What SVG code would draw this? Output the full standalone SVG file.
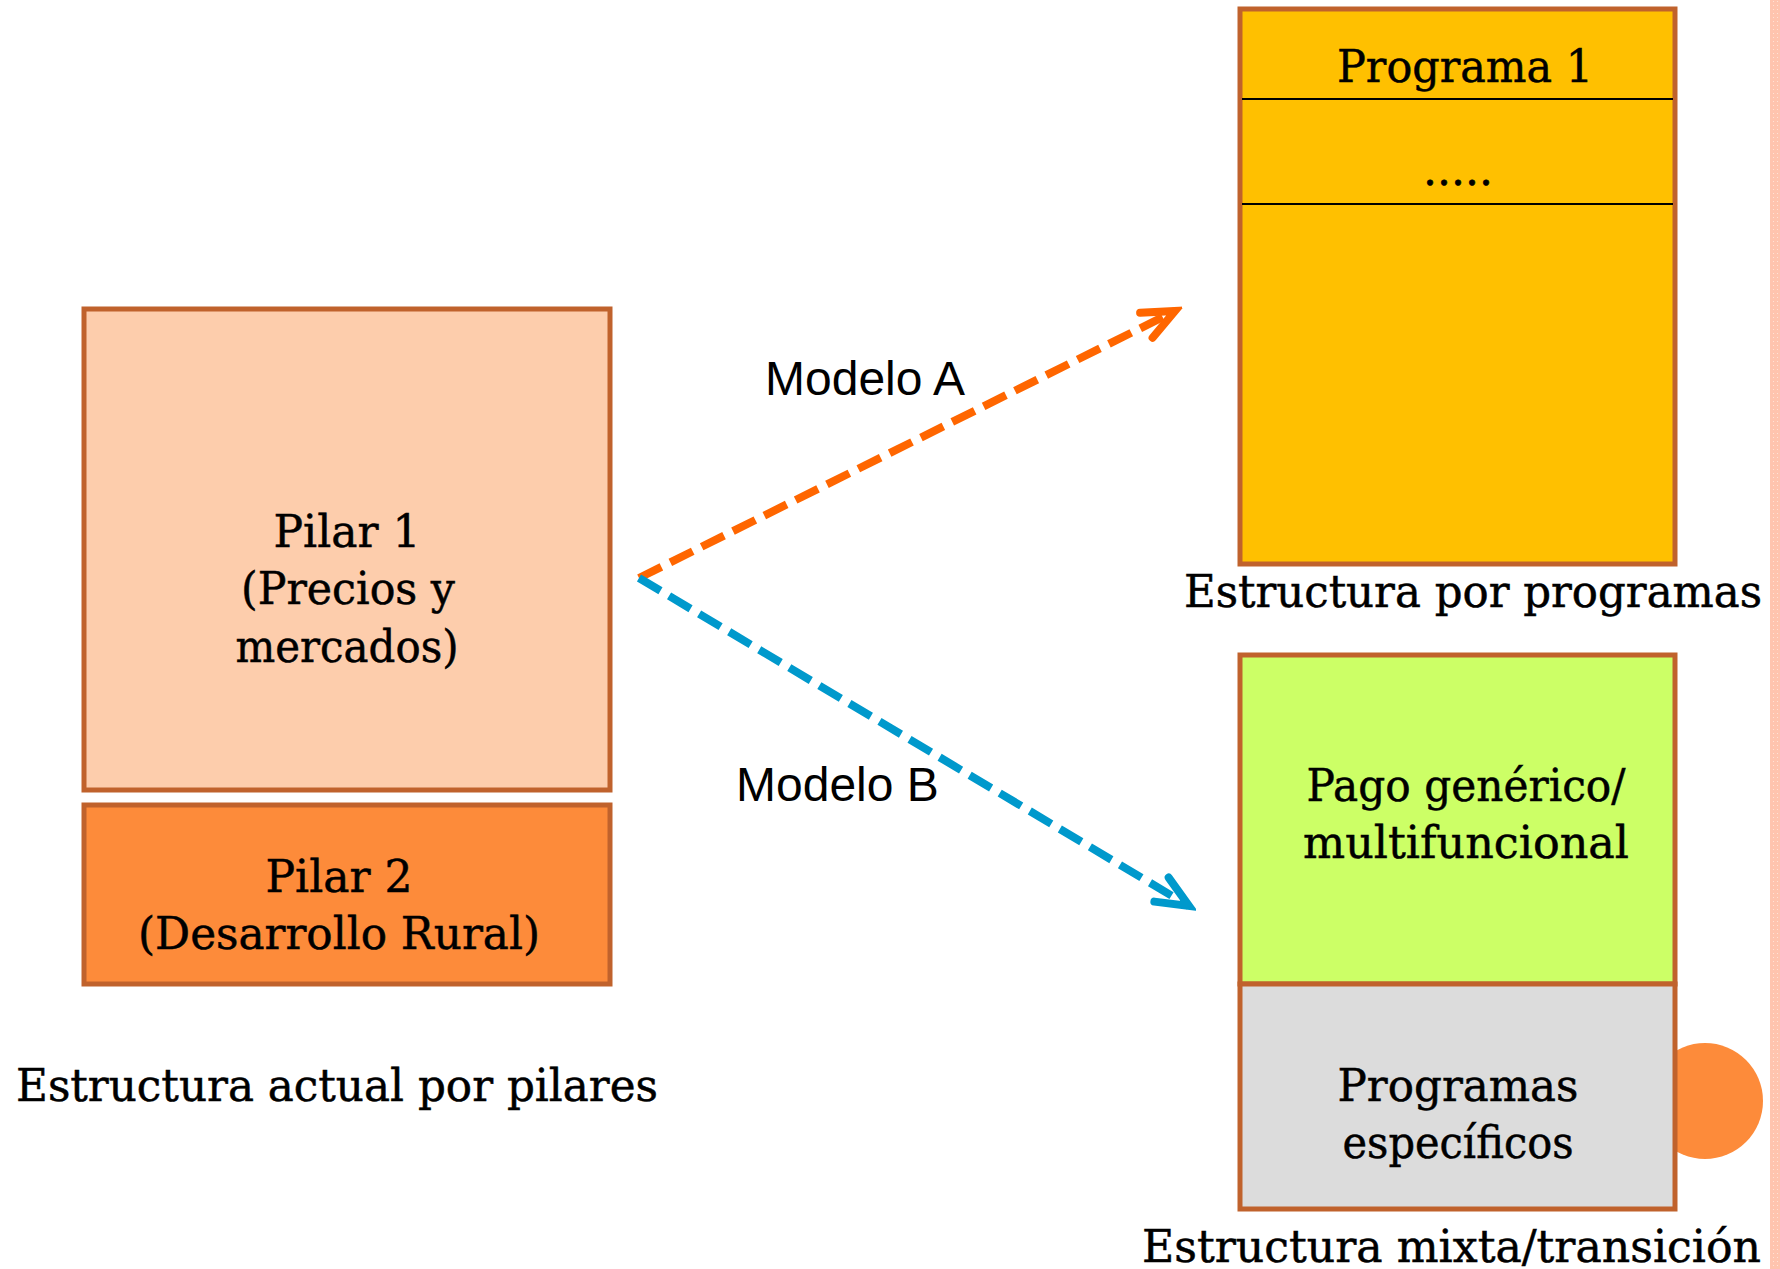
<svg xmlns="http://www.w3.org/2000/svg" width="1780" height="1269" viewBox="0 0 1780 1269">
<defs>
<style>
.box{stroke:#C0622C;stroke-width:5}
.t{font-family:"DejaVu Serif","Liberation Serif",serif;font-size:44px;fill:#000;stroke:#000;stroke-width:0.5;text-anchor:middle}
.tl{font-family:"DejaVu Serif","Liberation Serif",serif;font-size:44px;fill:#000;stroke:#000;stroke-width:0.5}
.s{font-family:"Liberation Sans",Arial,sans-serif;font-size:48px;fill:#000}
.dash{fill:none;stroke-width:8;stroke-dasharray:25 10}
</style>
<pattern id="dots" width="4" height="4" patternUnits="userSpaceOnUse">
<rect width="4" height="4" fill="#FFC4AE"/>
<rect x="1" y="1" width="1" height="1" fill="#FFE2D6"/>
</pattern>
<marker id="headO" markerWidth="50" markerHeight="44" viewBox="-42 -22 50 44" refX="0" refY="0" orient="auto" markerUnits="userSpaceOnUse">
<path d="M -32 -14 L 0 0 L -32 14" fill="none" stroke="#FF6600" stroke-width="8" stroke-linecap="round" stroke-linejoin="miter"/>
</marker>
<marker id="headB" markerWidth="50" markerHeight="44" viewBox="-42 -22 50 44" refX="0" refY="0" orient="auto" markerUnits="userSpaceOnUse">
<path d="M -32 -14 L 0 0 L -32 14" fill="none" stroke="#0099CC" stroke-width="8" stroke-linecap="round" stroke-linejoin="miter"/>
</marker>
</defs>
<rect width="1780" height="1269" fill="#FFFFFF"/>
<rect x="1770" y="0" width="10" height="1269" fill="url(#dots)"/>

<g id="pilar1">
<rect class="box" x="84" y="309" width="526" height="481" fill="#FDCDAC"/>
<text class="t" x="347" y="547">Pilar 1</text>
<text class="t" x="348" y="604" textLength="214" lengthAdjust="spacingAndGlyphs">(Precios y</text>
<text class="t" x="347" y="662" textLength="223" lengthAdjust="spacingAndGlyphs">mercados)</text>
</g>
<g id="pilar2">
<rect class="box" x="84" y="805" width="526" height="179" fill="#FD8B3A"/>
<text class="t" x="339" y="892">Pilar 2</text>
<text class="t" x="339" y="949" textLength="402" lengthAdjust="spacingAndGlyphs">(Desarrollo Rural)</text>
</g>
<g id="label-pilares">
<text class="tl" x="16" y="1101" textLength="642" lengthAdjust="spacingAndGlyphs">Estructura actual por pilares</text>
</g>

<g id="programas">
<rect class="box" x="1240" y="9" width="435" height="555" fill="#FFC000"/>
<line x1="1242" y1="99" x2="1673" y2="99" stroke="#000" stroke-width="2"/>
<line x1="1242" y1="204" x2="1673" y2="204" stroke="#000" stroke-width="2"/>
<text class="t" x="1465" y="82" textLength="256" lengthAdjust="spacingAndGlyphs">Programa 1</text>
<text class="t" x="1458" y="185">.....</text>
</g>
<g id="label-programas">
<text class="tl" x="1184" y="607" textLength="578" lengthAdjust="spacingAndGlyphs">Estructura por programas</text>
</g>

<g id="circulo">
<circle cx="1705" cy="1101" r="58" fill="#FD8B3A"/>
</g>
<g id="pago">
<rect class="box" x="1240" y="655" width="435" height="329" fill="#CCFF66"/>
<text class="t" x="1466" y="801" textLength="319" lengthAdjust="spacingAndGlyphs">Pago genérico/</text>
<text class="t" x="1466" y="858" textLength="326" lengthAdjust="spacingAndGlyphs">multifuncional</text>
</g>
<g id="especificos">
<rect class="box" x="1240" y="984" width="435" height="225" fill="#DCDCDC"/>
<text class="t" x="1458" y="1101" textLength="241" lengthAdjust="spacingAndGlyphs">Programas</text>
<text class="t" x="1458" y="1158" textLength="231" lengthAdjust="spacingAndGlyphs">específicos</text>
</g>
<g id="label-mixta">
<text class="tl" x="1142" y="1262" textLength="619" lengthAdjust="spacingAndGlyphs">Estructura mixta/transición</text>
</g>

<g id="connectors">
<line class="dash" x1="639" y1="578" x2="1175" y2="311" stroke="#FF6600" marker-end="url(#headO)"/>
<line class="dash" x1="639" y1="578" x2="1189" y2="906" stroke="#0099CC" marker-end="url(#headB)"/>
<text class="s" x="765" y="395">Modelo A</text>
<text class="s" x="736" y="801">Modelo B</text>
</g>
</svg>
